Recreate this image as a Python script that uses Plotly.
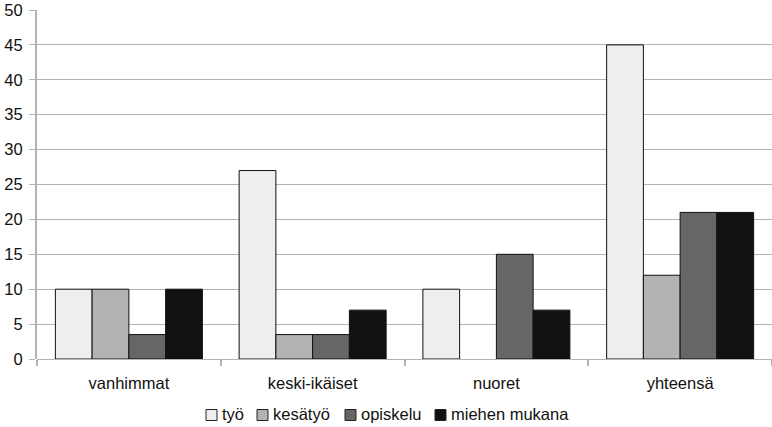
import plotly.graph_objects as go

categories = ["vanhimmat", "keski-ikäiset", "nuoret", "yhteensä"]
series_names = ["työ", "kesätyö", "opiskelu", "miehen mukana"]
tyo = [10, 27, 10, 45]
kesatyo = [10, 3.5, 0, 12]
opiskelu = [3.5, 3.5, 15, 21]
miehen_mukana = [10, 7, 7, 21]
y_ticks = [0, 5, 10, 15, 20, 25, 30, 35, 40, 45, 50]

colors = ["#eeeeee", "#b3b3b3", "#666666", "#111111"]
values = [tyo, kesatyo, opiskelu, miehen_mukana]

W, H = 772, 427
ML, MR, MT, MB = 37, 0, 10, 68
plot_w = W - ML - MR
plot_h = H - MT - MB

fig = go.Figure()
for name, vals, col in zip(series_names, values, colors):
    # zero-height bars get no outline so the baseline stays grey
    outline_w = [0 if v == 0 else 1 for v in vals]
    fig.add_trace(go.Bar(
        x=categories, y=vals, name=name, showlegend=False,
        marker=dict(color=col, line=dict(color="#111111", width=outline_w)),
    ))

# Compact legend row below the axis: swatch left edges in page pixels
legend_swatch_px = [206, 257, 345, 435]
legend_row_px = 414
swatch = 11


def px_to_paper_x(px):
    return (px - ML) / plot_w


def px_to_paper_y(py):
    return (H - MB - py) / plot_h


shapes = []
annotations = []
for name, col, sx in zip(series_names, colors, legend_swatch_px):
    shapes.append(dict(
        type="rect", xref="paper", yref="paper",
        x0=px_to_paper_x(sx), x1=px_to_paper_x(sx + swatch),
        y0=px_to_paper_y(legend_row_px + 1 + swatch / 2),
        y1=px_to_paper_y(legend_row_px + 1 - swatch / 2),
        fillcolor=col, line=dict(color="#222222", width=1),
    ))
    annotations.append(dict(
        text=name, xref="paper", yref="paper",
        x=px_to_paper_x(sx + swatch + 3), y=px_to_paper_y(legend_row_px),
        xanchor="left", yanchor="middle", showarrow=False,
        font=dict(size=16.5, color="#111111"),
    ))

fig.update_layout(
    width=W, height=H,
    margin=dict(l=ML, r=MR, t=MT, b=MB),
    paper_bgcolor="white", plot_bgcolor="white",
    barmode="group", bargap=0.2, bargroupgap=0,
    font=dict(family="Liberation Sans, Arial, sans-serif", size=16.5, color="#111111"),
    showlegend=False,
    shapes=shapes, annotations=annotations,
    xaxis=dict(
        showline=False, showgrid=False,
        ticks="outside", tickson="boundaries", ticklen=6, tickcolor="#b3b3b3",
        tickwidth=1.5, ticklabelstandoff=12,
    ),
    yaxis=dict(
        range=[0, 50], tickvals=y_ticks,
        showgrid=True, gridcolor="#b3b3b3", gridwidth=1,
        showline=True, linecolor="#b3b3b3", linewidth=2,
        ticks="outside", ticklen=6, tickcolor="#b3b3b3",
        ticklabelstandoff=3,
        zeroline=True, zerolinecolor="#b3b3b3", zerolinewidth=1,
    ),
)

fig.write_html("out.html")
